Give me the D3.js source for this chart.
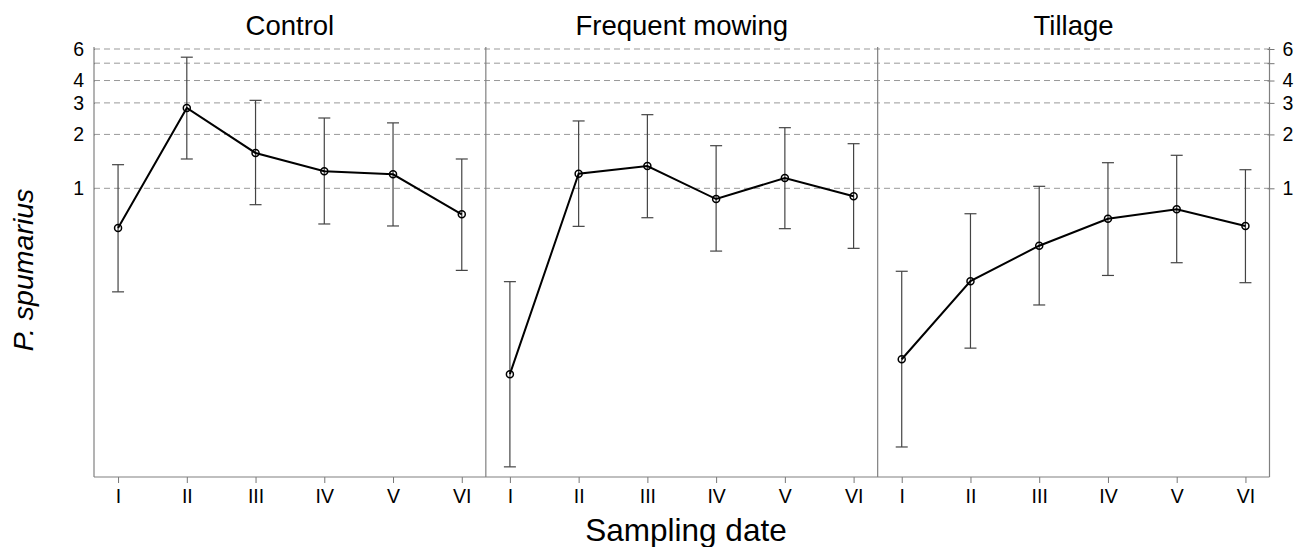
<!DOCTYPE html>
<html>
<head>
<meta charset="utf-8">
<script src="https://cdn.jsdelivr.net/npm/d3@7"></script>
<style>
  body { margin: 0; background: #fff; }
  svg { font-family: "Liberation Sans", Arial, sans-serif; }
</style>
</head>
<body>
<div id="chart"></div>
<script>
// === DATA ===
const dates = ["I", "II", "III", "IV", "V", "VI"];
const treatments = ["Control", "Frequent mowing", "Tillage"];

const controlMean  = [0.600, 2.81, 1.575, 1.245, 1.197, 0.716];
const controlLow   = [0.264, 1.458, 0.810, 0.632, 0.616, 0.348];
const controlHigh  = [1.355, 5.40, 3.10, 2.47, 2.32, 1.458];

const mowingMean   = [0.0916, 1.207, 1.332, 0.871, 1.142, 0.902];
const mowingLow    = [0.0278, 0.613, 0.685, 0.446, 0.595, 0.462];
const mowingHigh   = [0.301, 2.378, 2.578, 1.730, 2.181, 1.775];

const tillageMean  = [0.111, 0.303, 0.478, 0.676, 0.763, 0.616];
const tillageLow   = [0.0359, 0.128, 0.223, 0.326, 0.384, 0.297];
const tillageHigh  = [0.344, 0.721, 1.026, 1.390, 1.529, 1.270];

const yTicks = [1, 2, 3, 4, 5, 6];
const yTickLabels = ["1", "2", "3", "4", "", "6"];

const panels = [
  { mean: controlMean, low: controlLow, high: controlHigh },
  { mean: mowingMean, low: mowingLow, high: mowingHigh },
  { mean: tillageMean, low: tillageLow, high: tillageHigh }
];

// === SVG SETUP ===
const W = 1306, H = 547;
const plotLeft = 94, plotRight = 1269.5, plotTop = 49, plotBottom = 477;
const panelW = (plotRight - plotLeft) / 3;

const svg = d3.select("#chart").append("svg")
  .attr("width", W)
  .attr("height", H);

const y = d3.scaleLog()
  .domain([0.0244, 6])
  .range([plotBottom, plotTop]);

// === GRID LINES ===
svg.append("g")
  .selectAll("line")
  .data(yTicks)
  .enter().append("line")
  .attr("x1", plotLeft).attr("x2", plotRight)
  .attr("y1", d => y(d)).attr("y2", d => y(d))
  .attr("stroke", "#999")
  .attr("stroke-width", 1)
  .attr("stroke-dasharray", "6,4");

// === Y AXES (left and right) ===
function styleAxis(g) {
  g.select(".domain").remove();
  g.selectAll(".tick line").attr("stroke", "#777");
  g.selectAll(".tick text").attr("font-size", "19.5px").attr("fill", "#000");
}

const yAxisL = svg.append("g")
  .attr("transform", `translate(${plotLeft},0)`)
  .call(d3.axisLeft(y).tickValues(yTicks).tickSize(5).tickPadding(5)
    .tickFormat((d, i) => yTickLabels[i]));
styleAxis(yAxisL);
yAxisL.selectAll(".tick line").attr("x2", 1);

const yAxisR = svg.append("g")
  .attr("transform", `translate(${plotRight},0)`)
  .call(d3.axisRight(y).tickValues(yTicks).tickSize(5).tickPadding(8)
    .tickFormat((d, i) => yTickLabels[i]));
styleAxis(yAxisR);
yAxisR.selectAll(".tick line").attr("x1", -2);

// === PANELS ===
const line = d3.line();

panels.forEach((p, k) => {
  const x0 = plotLeft + k * panelW, x1 = x0 + panelW;
  const x = d3.scalePoint().domain(dates).range([x0, x1]).padding(0.35);

  // x axis
  const xg = svg.append("g")
    .attr("transform", `translate(0,${plotBottom})`)
    .call(d3.axisBottom(x).tickSize(6).tickPadding(6));
  xg.select(".domain").remove();
  xg.selectAll(".tick line").attr("stroke", "#777");
  xg.selectAll(".tick text").attr("font-size", "19.5px").attr("fill", "#000");

  // panel border (left side)
  svg.append("line")
    .attr("x1", x0).attr("x2", x0)
    .attr("y1", plotTop - 2).attr("y2", plotBottom)
    .attr("stroke", "#808080").attr("stroke-width", 1.2);

  // title
  svg.append("text")
    .attr("x", (x0 + x1) / 2)
    .attr("y", 35)
    .attr("text-anchor", "middle")
    .attr("font-size", "27.5px")
    .text(treatments[k]);

  // error bars
  const eb = svg.append("g").attr("stroke", "#444").attr("stroke-width", 1.2);
  dates.forEach((d, i) => {
    const cx = x(d);
    eb.append("line").attr("x1", cx).attr("x2", cx)
      .attr("y1", y(p.low[i])).attr("y2", y(p.high[i]));
    eb.append("line").attr("x1", cx - 6).attr("x2", cx + 6)
      .attr("y1", y(p.low[i])).attr("y2", y(p.low[i]));
    eb.append("line").attr("x1", cx - 6).attr("x2", cx + 6)
      .attr("y1", y(p.high[i])).attr("y2", y(p.high[i]));
  });

  // mean line
  svg.append("path")
    .attr("d", line(dates.map((d, i) => [x(d), y(p.mean[i])])))
    .attr("fill", "none")
    .attr("stroke", "#000")
    .attr("stroke-width", 2);

  // points
  svg.append("g").selectAll("circle")
    .data(p.mean)
    .enter().append("circle")
    .attr("cx", (d, i) => x(dates[i]))
    .attr("cy", d => y(d))
    .attr("r", 3.5)
    .attr("fill", "none")
    .attr("stroke", "#000")
    .attr("stroke-width", 1.5);
});

// right border and bottom line
svg.append("line")
  .attr("x1", plotRight).attr("x2", plotRight)
  .attr("y1", plotTop - 2).attr("y2", plotBottom)
  .attr("stroke", "#808080").attr("stroke-width", 1.2);

svg.append("line")
  .attr("x1", plotLeft).attr("x2", plotRight)
  .attr("y1", plotBottom).attr("y2", plotBottom)
  .attr("stroke", "#808080").attr("stroke-width", 1.2);

// === AXIS TITLES ===
svg.append("text")
  .attr("x", 686)
  .attr("y", 541)
  .attr("text-anchor", "middle")
  .attr("font-size", "31.5px")
  .text("Sampling date");

svg.append("text")
  .attr("transform", "rotate(-90)")
  .attr("x", -270)
  .attr("y", 33)
  .attr("text-anchor", "middle")
  .attr("font-size", "28.5px")
  .attr("font-style", "italic")
  .text("P. spumarius");
</script>
</body>
</html>
